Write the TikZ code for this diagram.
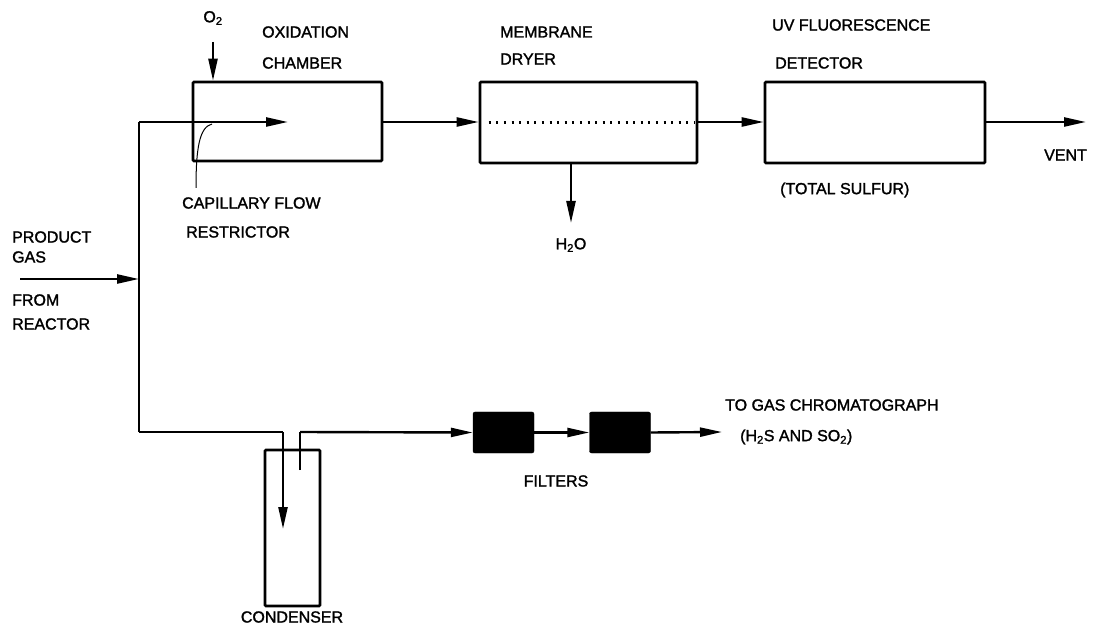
\documentclass[tikz,border=0pt]{standalone}
\usepackage{fontspec}
\setmainfont{Liberation Sans}[FakeBold=1.6]
\usetikzlibrary{arrows.meta}
\begin{document}
\begin{tikzpicture}[x=1pt,y=-1pt,
  every node/.style={font=\fontsize{16}{19}\selectfont},
  unit/.style={draw,line width=2.6pt,rounded corners=1pt,inner sep=0pt},
  filterbox/.style={fill=black,draw=black,rounded corners=2pt,inner sep=0pt,minimum width=61pt,minimum height=41pt},
  pipe/.style={line width=2.4pt},
  flow/.style={line width=2.4pt,-{Triangle[length=22pt,width=9pt]}},
  lbl/.style={anchor=west,inner sep=0pt},
  leader/.style={line width=1pt}]
\useasboundingbox (0,0) rectangle (1093,628);

% units
\node[unit,minimum width=189pt,minimum height=79pt] (ox) at (287.5,121.5) {};
\node[unit,minimum width=217pt,minimum height=81pt] (dry) at (588.5,122.5) {};
\node[unit,minimum width=220pt,minimum height=81pt] (det) at (875,122.5) {};
\node[unit,minimum width=55pt,minimum height=156pt] (cond) at (292.5,528) {};
\node[filterbox] (f1) at (503.5,432.5) {};
\node[filterbox] (f2) at (620,432.5) {};

% coordinates
\coordinate (inlet) at (20,279);
\coordinate (tee) at (139,279);
\coordinate (top) at (139,122);
\coordinate (bot) at (139,432);
\coordinate (oxtip) at (288,122);
\coordinate (o2s) at (213,42);
\coordinate (h2oend) at (571,223);
\coordinate (vent) at (1086,122);
\coordinate (cin) at (283,432);
\coordinate (cintip) at (283,529);
\coordinate (cout) at (300,470);
\coordinate (couttop) at (300,432);
\coordinate (gc) at (722,432);
\coordinate (capA) at (212,124);
\coordinate (capB) at (196,188);

% flows
\draw[flow] (inlet) -- (tee);
\draw[pipe] (bot) -- (top);
\draw[flow] (top) -- (oxtip);
\draw[flow] (o2s) -- (o2s |- ox.north);
\draw[flow] (ox.east |- top) -- (dry.west |- top);
\draw[line width=2.3pt,dash pattern=on 2pt off 5.6pt] ([xshift=10pt]dry.west) -- ([xshift=-4pt]dry.east);
\draw[flow] (dry.south -| h2oend) -- (h2oend);
\draw[flow] (dry.east |- top) -- (det.west |- top);
\draw[flow] (det.east |- top) -- (vent);
\draw[pipe] (bot) -- (cin);
\draw[flow] (cin) -- (cintip);
\draw[pipe] (cout) -- (couttop);
\draw[flow] (couttop) -- (f1.west);
\draw[flow] (f1.east) -- (f2.west);
\draw[flow] (f2.east) -- (gc);
\draw[leader] (capA) .. controls (199,127) and (196,150) .. (capB);

% labels
\node (o2) at (213,18) {O\textsubscript{2}};
\node[lbl] (oxl1) at (262,32) {OXIDATION};
\node[lbl] (oxl2) at (262,63) {CHAMBER};
\node[lbl] (cap1) at (182,203) {CAPILLARY FLOW};
\node[lbl] (cap2) at (186,232) {RESTRICTOR};
\node[lbl] (mem1) at (500,32) {MEMBRANE};
\node[lbl] (mem2) at (500,59) {DRYER};
\node (h2o) at (571,245) {H\textsubscript{2}O};
\node[lbl] (uv1) at (772,25) {UV FLUORESCENCE};
\node[lbl] (uv2) at (775,63) {DETECTOR};
\node[lbl] (ts) at (780,190) {(TOTAL SULFUR)};
\node[lbl] (ventl) at (1044,155) {VENT};
\node[lbl] (p1) at (12,237) {PRODUCT};
\node[lbl] (p2) at (12,257) {GAS};
\node[lbl] (p3) at (12,300) {FROM};
\node[lbl] (p4) at (12,324) {REACTOR};
\node[lbl] (gc1) at (725,405) {TO GAS CHROMATOGRAPH};
\node[lbl] (gc2) at (740,437) {(H\textsubscript{2}S AND SO\textsubscript{2})};
\node (filt) at (556,481) {FILTERS};
\node (condl) at (292,617) {CONDENSER};
\end{tikzpicture}
\end{document}
